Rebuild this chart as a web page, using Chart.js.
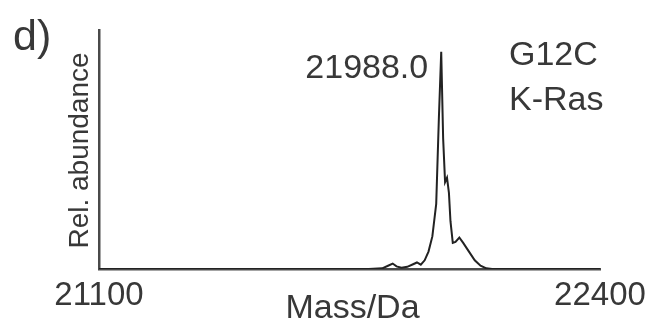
<!DOCTYPE html>
<html>
<head>
<meta charset="utf-8">
<script src="https://cdn.jsdelivr.net/npm/chart.js@4.4.1/dist/chart.umd.min.js"></script>
<style>
    html, body { margin: 0; padding: 0; background: #fff; }
    #wrap { width: 653px; height: 325px; position: relative; }
</style>
</head>
<body>
<div id="wrap"><canvas id="spectrum"></canvas></div>
<script>
// Deconvoluted mass spectrum, G12C K-Ras
const masses = [21100, 21800, 21835, 21850, 21862, 21872, 21885, 21900, 21915, 21925,
    21935, 21945, 21955, 21965, 21975, 21982, 21988, 21993, 21998, 22003,
    22008, 22012, 22018, 22025, 22035, 22045, 22060, 22075, 22090, 22105, 22120, 22400];
const abundance = [0, 0, 0.3, 1.5, 2.5, 1.2, 0.6, 1.0, 2.2, 3.0,
    2.0, 4.0, 8.0, 15, 30, 70, 100, 60, 40, 42,
    35, 22, 12, 12.5, 14.5, 12, 8, 4, 1.5, 0.3, 0, 0];
const xTicks = [21100, 22400];
const peakLabel = '21988.0';
const peakMass = 21988;
const sampleLines = ['G12C', 'K-Ras'];
const panelLabel = 'd)';
const xTitle = 'Mass/Da';
const yTitle = 'Rel. abundance';

const FONT = '"Liberation Sans", Arial, sans-serif';
const TEXT = '#383838';

const textPlugin = {
    id: 'figureText',
    afterDraw(chart) {
        const ctx = chart.ctx;
        const area = chart.chartArea;
        const xs = chart.scales.x;
        ctx.save();
        ctx.fillStyle = TEXT;
        ctx.textBaseline = 'alphabetic';

        ctx.font = '43px ' + FONT;
        ctx.textAlign = 'left';
        ctx.fillText(panelLabel, 13, 50);

        ctx.font = '34px ' + FONT;
        ctx.textAlign = 'right';
        ctx.fillText(peakLabel, xs.getPixelForValue(peakMass) - 13, 78);

        ctx.textAlign = 'left';
        ctx.fillText(sampleLines[0], 509, 65);
        ctx.fillText(sampleLines[1], 509, 110);

        ctx.textAlign = 'center';
        ctx.fillText(xTitle, (area.left + area.right) / 2 + 3, 318);

        ctx.font = '28px ' + FONT;
        ctx.translate(88, (area.top + area.bottom) / 2 + 1);
        ctx.rotate(-Math.PI / 2);
        ctx.textAlign = 'center';
        ctx.fillText(yTitle, 0, 0);
        ctx.restore();
    }
};

new Chart(document.getElementById('spectrum'), {
    type: 'line',
    data: {
        datasets: [{
            data: masses.map((m, i) => ({ x: m, y: abundance[i] })),
            borderColor: '#222',
            borderWidth: 2,
            pointRadius: 0,
            tension: 0,
            fill: false
        }]
    },
    options: {
        responsive: true,
        maintainAspectRatio: false,
        animation: false,
        layout: { padding: { left: 0, right: 53, top: 30, bottom: 0 } },
        plugins: {
            legend: { display: false },
            tooltip: { enabled: false }
        },
        scales: {
            x: {
                type: 'linear',
                min: 21100,
                max: 22400,
                afterBuildTicks: (scale) => { scale.ticks = xTicks.map(v => ({ value: v })); },
                afterFit: (scale) => { scale.height = 56; },
                grid: { display: false, drawTicks: false },
                border: { display: true, color: '#4a4a4a', width: 2.5 },
                ticks: {
                    color: TEXT,
                    font: { family: FONT, size: 33 },
                    padding: 7,
                    maxRotation: 0,
                    autoSkip: false,
                    callback: (value) => String(value)
                }
            },
            y: {
                min: 0,
                max: 110,
                afterFit: (scale) => { scale.width = 99; },
                grid: { display: false, drawTicks: false },
                border: { display: true, color: '#4a4a4a', width: 2.5 },
                ticks: { display: false }
            }
        }
    },
    plugins: [textPlugin]
});
</script>
</body>
</html>
